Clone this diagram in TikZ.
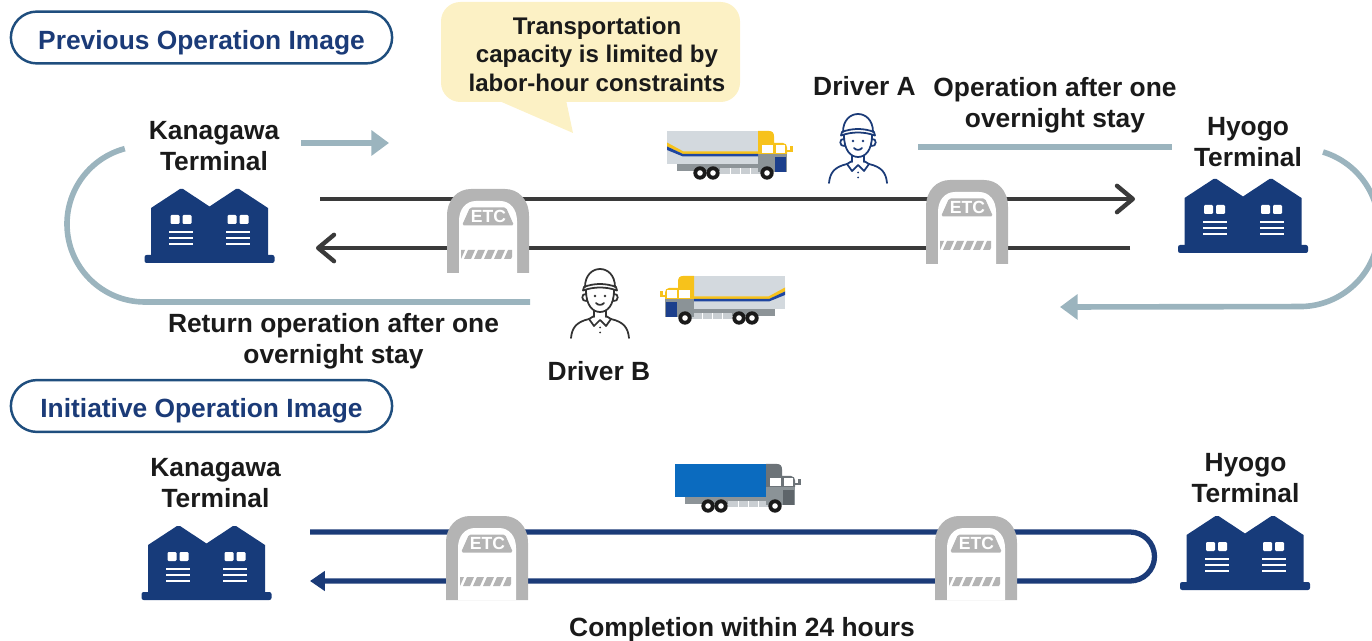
\documentclass[tikz,border=0pt]{standalone}
\usepackage{fontspec}
\setmainfont{Liberation Sans}
\usetikzlibrary{arrows.meta}

\definecolor{navy}{HTML}{1B3B78}
\definecolor{pillblue}{HTML}{1F4E7E}
\definecolor{bldg}{HTML}{173B7A}
\definecolor{loopgray}{HTML}{9BB4BE}
\definecolor{roadgray}{HTML}{3A3A3A}
\definecolor{gategray}{HTML}{B4B4B4}
\definecolor{note}{HTML}{FCF1C5}
\definecolor{ink}{HTML}{1A1A1A}
\definecolor{boxgray}{HTML}{D3D9DE}
\definecolor{chassis}{HTML}{8D9498}
\definecolor{underbody}{HTML}{C9CED2}
\definecolor{cabyellow}{HTML}{F7C21B}
\definecolor{cabblue}{HTML}{1C3F8C}
\definecolor{stripeblue}{HTML}{1F46A0}
\definecolor{boxblue}{HTML}{0B6BBF}
\definecolor{cabdark}{HTML}{6C7378}
\definecolor{cabmid}{HTML}{8B9397}
\definecolor{frontdark}{HTML}{5E656A}
\definecolor{drivergray}{HTML}{333333}

\tikzset{
  lbl/.style={font=\fontsize{15}{17.6}\selectfont\bfseries, text=ink, align=center, inner sep=0pt},
  notetext/.style={font=\fontsize{13.7}{16.2}\selectfont\bfseries, text=ink, align=center, inner sep=0pt},
  pill/.style={draw=pillblue, line width=1.4pt, rounded corners=14.8pt, fill=white,
    minimum width=217pt, minimum height=29.5pt, inner sep=0pt,
    text height=13.5pt, text depth=0.4pt,
    font=\fontsize{15}{17.6}\selectfont\bfseries, text=navy},
  loopline/.style={draw=loopgray, line width=3.2pt},
  loophead/.style={-{Triangle[length=10pt,width=14pt]}},
  road/.style={draw=roadgray, line width=2.5pt},
  roadhead/.style={-{Straight Barb[length=9pt,width=15pt,round]}},
  navyroad/.style={draw=navy, line width=3pt},
  navyhead/.style={-{Triangle[length=8.5pt,width=11pt]}},
  % warehouse pair, origin at bottom centre of the base bar
  pics/terminal/.style={code={
    \fill[bldg, rounded corners=1.2pt] (-65,-8) rectangle (65,0);
    \fill[bldg] (-58.5,-4) -- (-58.5,-55) -- (-29.5,-74) -- (-26.5,-74) -- (0,-56.5)
      -- (26.5,-74) -- (29.5,-74) -- (58.5,-55) -- (58.5,-4) -- cycle;
    \foreach \hc in {-28.5,28.5}{
      \fill[white, rounded corners=0.6pt] (\hc-10.5,-48) rectangle (\hc-1.5,-39);
      \fill[white, rounded corners=0.6pt] (\hc+1.5,-48) rectangle (\hc+10.5,-39);
      \fill[white] (\hc-12,-31.8) rectangle (\hc+12,-29.6);
      \fill[white] (\hc-12,-25.8) rectangle (\hc+12,-23.6);
      \fill[white] (\hc-12,-20) rectangle (\hc+12,-17.8);
    }
  }},
  % toll gate, origin at top centre of the arch
  pics/etcgate/.style={code={
    \fill[gategray] (-41,84) -- (-41,27) .. controls (-41,10) and (-30,0) .. (-17,0)
      -- (17,0) .. controls (30,0) and (41,10) .. (41,27) -- (41,84) -- cycle;
    \fill[white] (-29,84) -- (-29,32) .. controls (-29,20) and (-22,12) .. (-12,12)
      -- (12,12) .. controls (22,12) and (29,20) .. (29,32) -- (29,84) -- cycle;
    \fill[gategray, rounded corners=1pt] (-18,18.5) -- (18,18.5) -- (26,36.5) -- (-26,36.5) -- cycle;
    \node[font=\fontsize{10}{10}\selectfont\bfseries, text=white, inner sep=0pt] (plate) at (0.5,27.5) {ETC};
    \begin{scope}
      \clip (-27,60) rectangle (24,71);
      \foreach \i in {0,...,6}{
        \fill[gategray] ({-34+10*\i},70) -- ({-30+10*\i},61) -- ({-23+10*\i},61) -- ({-27+10*\i},70) -- cycle;
      }
    \end{scope}
  }},
  % truck facing right, origin at top left of the cargo box
  pics/truck/.style n args={4}{code={
    \fill[#1] (0,0) rectangle (91,33);
    \fill[chassis] (10,33) rectangle (91,40);
    \fill[underbody] (53,37) rectangle (94,43);
    \draw[white, line width=0.5pt] (63,37) -- (63,43) (73,37) -- (73,43) (83,37) -- (83,43);
    \fill[#2] (91,0) -- (102,0) .. controls (105.5,0) and (107,2) .. (107,5.5) -- (107,12)
      -- (116,12) .. controls (118.5,12) and (120,14) .. (120,16.5) -- (120,23) -- (91,23) -- cycle;
    \fill[#3] (91,23) rectangle (120,41);
    \fill[#4] (108,26.5) rectangle (119,41);
    \fill[white] (95,14) rectangle (106,22);
    \fill[white] (108.5,14) rectangle (118,22);
    \fill[#2] (120,19.5) rectangle (123,21);
    \fill[#2] (122.5,15.5) rectangle (125.5,21);
    \foreach \wx in {33,46,100}{
      \fill[ink] (\wx,42) circle (6.7);
      \fill[white] (\wx,42) circle (2.8);
    }
  }},
  pics/stripes/.style={code={
    \fill[cabyellow] (0,11.5) -- (16.5,20.5) -- (91,20.5) -- (91,23) -- (16,23) -- (0,15.5) -- cycle;
    \fill[stripeblue] (0,15.5) -- (16,23) -- (91,23) -- (91,25.3) -- (15.5,25.3) -- (0,19) -- cycle;
  }},
  % driver in outline, origin at the centre of the face
  pics/driver/.style={code={
    \begin{scope}[line width=1pt, line cap=round, line join=round]
      \draw (-15,-11) .. controls (-15,-35) and (15,-35) .. (15,-11);
      \draw (-16,-11) .. controls (-6,-15) and (6,-15) .. (16,-11);
      \draw (-16,-11) -- (-17,-7.5) .. controls (-6,-11.5) and (6,-11.5) .. (17,-7.5) -- (16,-11);
      \draw (-14,-8) .. controls (-14,8) and (-7,14) .. (0,14) .. controls (7,14) and (14,8) .. (14,-8);
      \draw (-14,-4) .. controls (-19,-5) and (-19,4) .. (-13.5,3);
      \draw (14,-4) .. controls (19,-5) and (19,4) .. (13.5,3);
      \fill (-5,-2) circle (1.3);
      \fill (5,-2) circle (1.3);
      \draw (-4,5) .. controls (-2,7.5) and (2,7.5) .. (4,5);
      \draw (-6,12.5) -- (-6,19);
      \draw (6,12.5) -- (6,19);
      \draw (-6,18) -- (-11,21) -- (-6,28) -- (0,22) -- (6,28) -- (11,21) -- (6,18);
      \draw (-11,21) .. controls (-24,24) and (-28,30) .. (-29,40);
      \draw (11,21) .. controls (24,24) and (28,30) .. (29,40);
      \fill (0,29.5) circle (1);
      \fill (0,34.5) circle (1);
    \end{scope}
  }}
}

\begin{document}
\begin{tikzpicture}[x=0.02cm, y=-0.02cm]
  \useasboundingbox (0,0) rectangle (1372,641);

  % ---------- previous operation ----------
  \node[pill] (prev) at (201.5,37.5) {Previous Operation Image};

  % note bubble
  \fill[note, rounded corners=11pt] (441,2) rectangle (740,102);
  \fill[note] (497,100) -- (573,133) -- (566,100) -- cycle;
  \node[notetext] (note) at (597,54) {Transportation\\capacity is limited by\\labor-hour constraints};

  % outgoing/return loop of the drivers
  \coordinate (loopL) at (530,302);
  \coordinate (loopLb) at (145,302);
  \draw[loopline] (loopL) -- (loopLb) arc[start angle=90, end angle=255, radius=78];
  \coordinate (goS) at (301,143);
  \coordinate (goE) at (389,143);
  \draw[loopline, loophead] (goS) -- (goE);
  \coordinate (stayS) at (918,147);
  \coordinate (stayE) at (1172,147);
  \draw[loopline] (stayS) -- (stayE);
  \coordinate (loopR) at (1323,152);
  \coordinate (backE) at (1060,307);
  \draw[loopline, loophead] (loopR) arc[start angle=-73, end angle=90, radius=79] -- (backE);

  % road in both directions
  \coordinate (r1s) at (320,199);
  \coordinate (r1e) at (1135,199);
  \draw[road, roadhead] (r1s) -- (r1e);
  \coordinate (r2s) at (1130,248);
  \coordinate (r2e) at (316,248);
  \draw[road, roadhead] (r2s) -- (r2e);

  \pic (ga) at (488,189) {etcgate};
  \pic (gb) at (967,180) {etcgate};

  % terminals
  \node[lbl] (kanaT) at (214,146) {Kanagawa\\Terminal};
  \pic (kana) at (209.5,263) {terminal};
  \node[lbl] (hyoT) at (1248,142) {Hyogo\\Terminal};
  \pic (hyo) at (1243,253) {terminal};

  % trucks and drivers
  \pic (trA) at (667,131) {truck={boxgray}{cabyellow}{cabmid}{cabblue}};
  \pic (stA) at (667,131) {stripes};
  \pic[xscale=-1] (trB) at (785,276) {truck={boxgray}{cabyellow}{cabmid}{cabblue}};
  \pic[xscale=-1] (stB) at (785,276) {stripes};
  \pic[color=navy] (drA) at (858,143) {driver};
  \pic[color=drivergray] (drB) at (600,298) {driver};

  \node[lbl] (drAT) at (864.5,86) {Driver A};
  \node[lbl] (drBT) at (599,371) {Driver B};
  \node[lbl] (stayT) at (1055,105) {Operation after one\\overnight stay};
  \node[lbl] (retT) at (333.5,341) {Return operation after one\\overnight stay};

  % ---------- initiative operation ----------
  \node[pill] (init) at (201.5,406) {Initiative Operation Image};

  \node[lbl] (kanaB) at (215.5,483) {Kanagawa\\Terminal};
  \pic (kana2) at (206.5,600) {terminal};
  \node[lbl] (hyoB) at (1245.5,478) {Hyogo\\Terminal};
  \pic (hyo2) at (1245,590) {terminal};

  \coordinate (n1s) at (310,532);
  \coordinate (n1e) at (1130,532);
  \coordinate (n2e) at (310,581);
  \draw[navyroad, navyhead] (n1s) -- (n1e) arc[start angle=-90, end angle=90, radius=24.5] -- (n2e);

  \pic (gc) at (487,516) {etcgate};
  \pic (gd) at (976,516) {etcgate};

  \pic (trC) at (675,464) {truck={boxblue}{cabdark}{cabmid}{frontdark}};

  \node[lbl] (doneT) at (742,630) {Completion within 24 hours};
\end{tikzpicture}
\end{document}
